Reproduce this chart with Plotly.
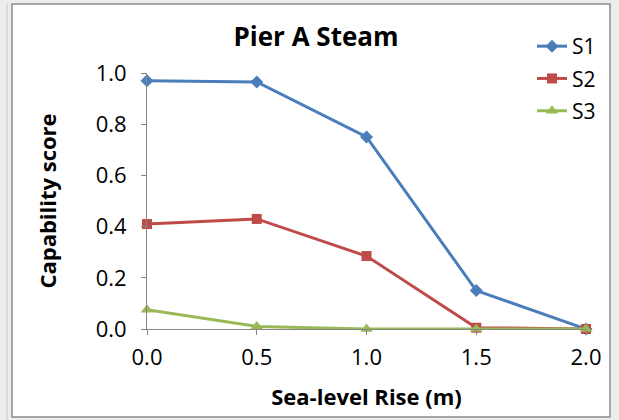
import plotly.graph_objects as go

x_vals = [0.0, 0.5, 1.0, 1.5, 2.0]
s1 = [0.97, 0.965, 0.75, 0.15, 0.0]
s2 = [0.41, 0.43, 0.285, 0.005, 0.0]
s3 = [0.075, 0.01, 0.0, 0.0, 0.0]
series_names = ["S1", "S2", "S3"]
x_ticks = [0.0, 0.5, 1.0, 1.5, 2.0]
y_ticks = [0.0, 0.2, 0.4, 0.6, 0.8, 1.0]

colors = ["#4A7EBB", "#BE4B48", "#98B954"]
symbols = ["diamond", "square", "triangle-up"]
sizes = [10, 10, 11]

fig = go.Figure()
for name, ys, c, sym, sz in zip(series_names, [s1, s2, s3], colors, symbols, sizes):
    fig.add_trace(go.Scatter(
        x=x_vals, y=ys, name=name, mode="lines+markers",
        line=dict(color=c, width=3),
        marker=dict(symbol=sym, size=sz, color=c),
        cliponaxis=False, legendgroup=name,
    ))

font = "'Open Sans', sans-serif"
W, H = 619, 420
L, R, T, B = 147, 33, 73, 91
pw, ph = W - L - R, H - T - B

def px_x(p):
    return (p - L) / pw

def px_y(p):
    return (H - B - p) / ph

fig.update_layout(
    width=W, height=H,
    margin=dict(l=L, r=R, t=T, b=B),
    paper_bgcolor="#EDEDED",
    plot_bgcolor="white",
    font=dict(family=font, color="black"),
    title=dict(text="<b>Pier A Steam</b>", x=316 / W, xanchor="center",
               y=1 - 37 / H, yanchor="middle", font=dict(size=26, family=font)),
    xaxis=dict(range=[0, 2], tickvals=x_ticks, ticktext=[f"{v:.1f}" for v in x_ticks],
               showgrid=False, zeroline=False, showline=True, linecolor="#868686", linewidth=1,
               ticks="outside", ticklen=5, tickcolor="#868686", ticklabelstandoff=4,
               tickfont=dict(size=22, family=font),
               title=dict(text="<b>Sea-level Rise (m)</b>", font=dict(size=22, family=font), standoff=19)),
    yaxis=dict(range=[0, 1.0], tickvals=y_ticks, ticktext=[f"{v:.1f}" for v in y_ticks],
               showgrid=False, zeroline=False, showline=True, linecolor="#868686", linewidth=1,
               ticks="outside", ticklen=5, tickcolor="#868686", ticklabelstandoff=10,
               tickfont=dict(size=22, family=font),
               title=dict(text="<b>Capability score</b>", font=dict(size=22, family=font), standoff=32)),
    legend=dict(x=px_x(532), y=px_y(26), xanchor="left", yanchor="top",
                font=dict(size=21, family=font), bgcolor="rgba(0,0,0,0)",
                tracegroupgap=2, itemwidth=30),
    showlegend=True,
)

# chart frame (white panel with gray border, Excel-like)
fig.add_shape(type="rect", xref="paper", yref="paper",
              x0=px_x(12), x1=px_x(610), y0=px_y(417), y1=px_y(4),
              line=dict(color="#8C8C8C", width=1.5), fillcolor="white", layer="below")
fig.add_shape(type="line", xref="paper", yref="paper",
              x0=px_x(7), x1=px_x(7), y0=px_y(420), y1=px_y(4),
              line=dict(color="#C8C8C8", width=1))

fig.write_html("out.html")
